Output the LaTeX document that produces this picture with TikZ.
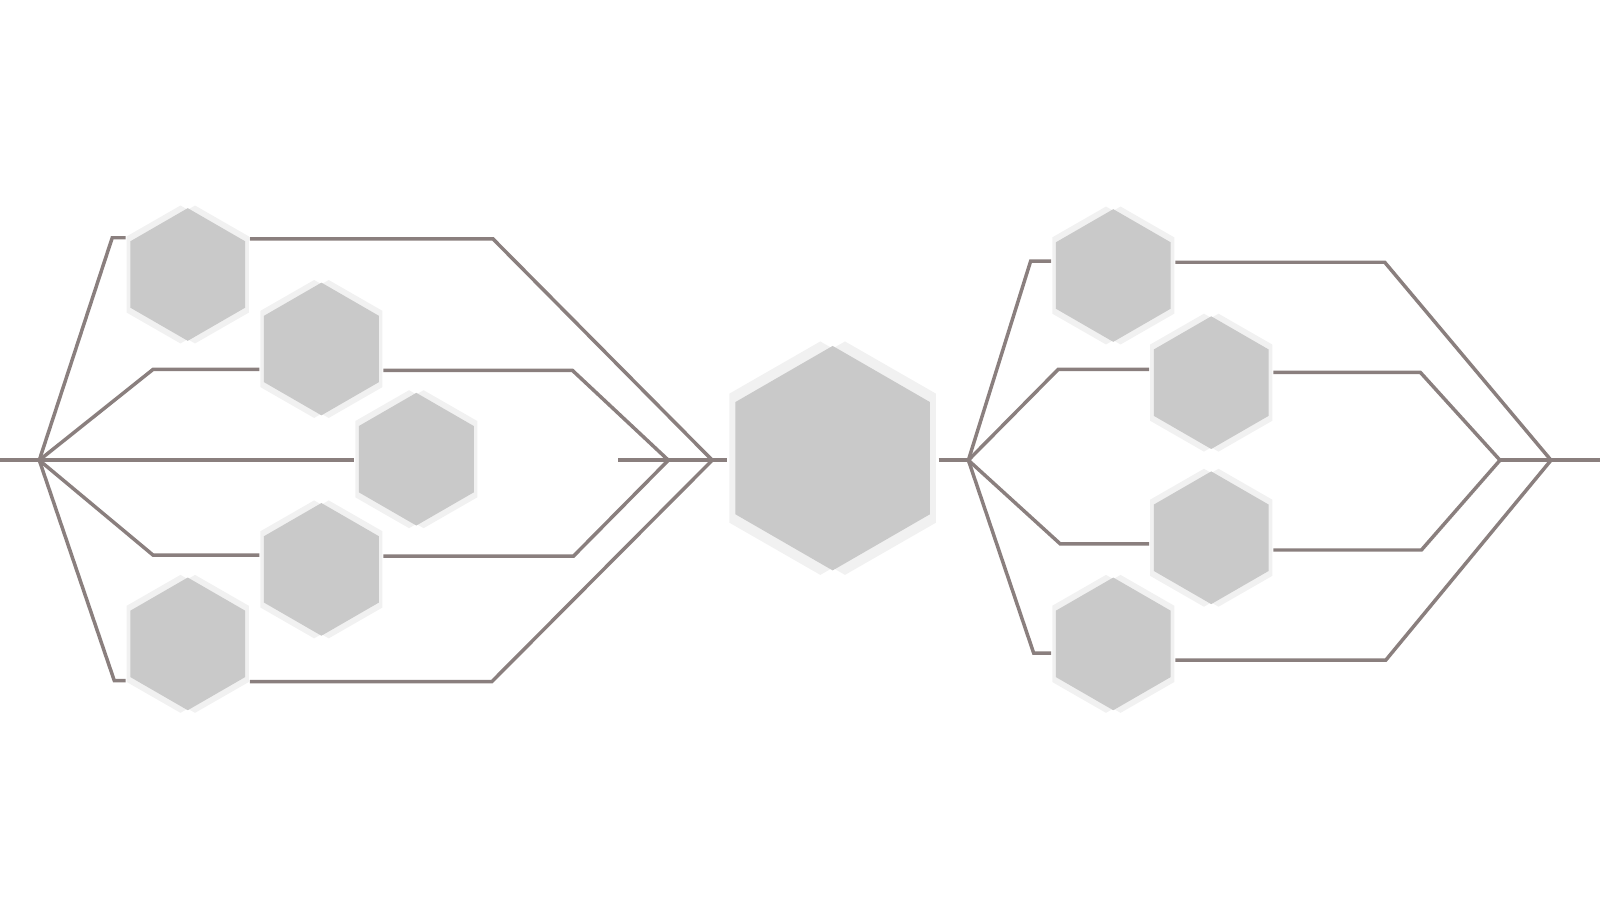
\documentclass[tikz,border=0pt]{standalone}
\usepackage{tikz}
\usetikzlibrary{shapes.geometric}

\definecolor{wirecol}{HTML}{8A7F7E}
\definecolor{hexfill}{HTML}{C9C9C9}
\definecolor{hexhalo}{HTML}{F1F1F1}

\tikzset{
  wire/.style={line width=3.4pt, draw=wirecol},
  hexa/.style={regular polygon, regular polygon sides=6, shape border rotate=30, fill=hexfill, inner sep=0pt, outer sep=4.5pt}
}

\begin{document}
\begin{tikzpicture}[x=1pt,y=-1pt]
\useasboundingbox (0,0) rectangle (1568,882);

\foreach \n/\cx/\cy/\r in {h1/184/269/65, h2/315/342/65, h3/408/450/65, h4/315/558/65, h5/184/631/65, hc/816/449/110, h6/1091/270/65, h7/1187/375/65, h8/1187/527/65, h9/1091/631/65}{
    \fill[hexhalo] ({\cx-0.11*\r},{\cy-1.04*\r}) -- (\cx,{\cy-0.977*\r}) -- ({\cx+0.11*\r},{\cy-1.04*\r})
        -- ({\cx+0.92*\r},{\cy-0.575*\r}) -- ({\cx+0.92*\r},{\cy+0.575*\r}) -- ({\cx+0.11*\r},{\cy+1.04*\r})
        -- (\cx,{\cy+0.977*\r}) -- ({\cx-0.11*\r},{\cy+1.04*\r}) -- ({\cx-0.92*\r},{\cy+0.575*\r})
        -- ({\cx-0.92*\r},{\cy-0.575*\r}) -- cycle;
    \node[hexa, minimum size=2*\r] (\n) at (\cx,\cy) {};
}

\coordinate (inL) at (0,451);
\coordinate (fanL) at (38.5,451);
\coordinate (jL1) at (655,451);
\coordinate (jL2) at (698,451);
\coordinate (midA) at (606,451);
\coordinate (fanR) at (949,451);
\coordinate (jR1) at (1470,451);
\coordinate (jR2) at (1520,451);
\coordinate (outR) at (1568,451);

\draw[wire] (inL) -- (inL -| h3.west);
\draw[wire] (midA) -- ([xshift=-4pt]midA -| hc.west);
\draw[wire] ([xshift=4pt]fanR -| hc.east) -- (fanR);
\draw[wire] (jR1) -- (outR);

\foreach \h/\f/\ax/\ay/\bx/\by/\j in {h1/fanL/110/233/483/234/jL2, h2/fanL/150/362/561/363/jL1,
    h4/fanL/150/544/562/545/jL1, h5/fanL/112/667/482/668/jL2,
    h6/fanR/1010/256/1357/257/jR2, h7/fanR/1037/362/1392/365/jR1,
    h8/fanR/1039/533/1393/539/jR1, h9/fanR/1013/640/1358/647/jR2}{
    \coordinate (a) at (\ax,\ay);
    \coordinate (b) at (\bx,\by);
    \draw[wire] (\f) -- (a) -- (a -| \h.west);
    \draw[wire] (\h.east |- b) -- (b) -- (\j);
}
\end{tikzpicture}
\end{document}
